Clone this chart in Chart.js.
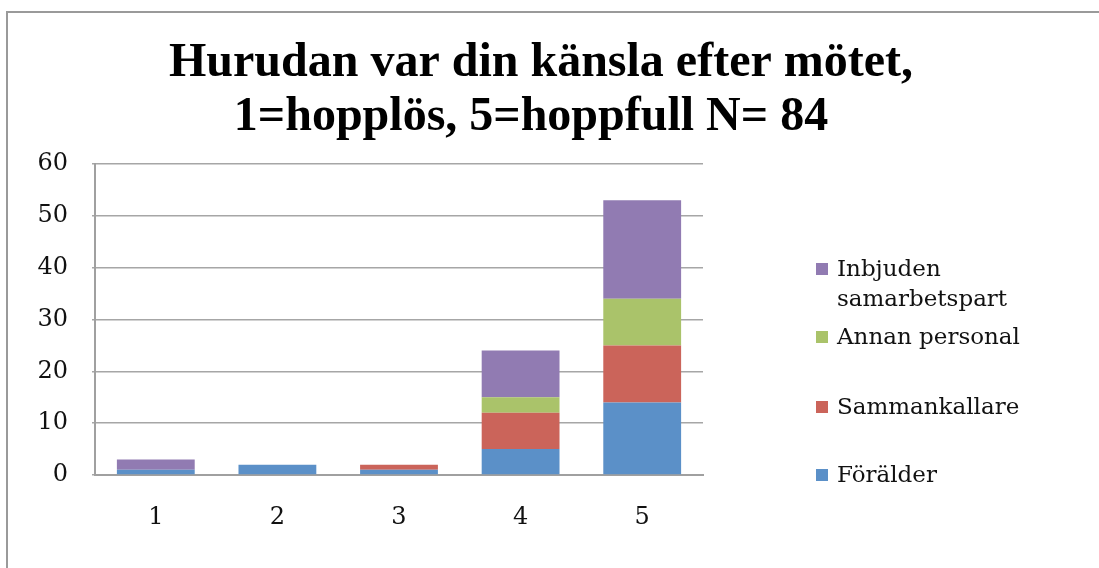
<!DOCTYPE html>
<html>
<head>
<meta charset="utf-8">
<script src="https://cdn.jsdelivr.net/npm/chart.js@4/dist/chart.umd.min.js"></script>
<style>
  html, body { margin: 0; padding: 0; background: #fff; }
  #wrap { width: 1099px; height: 568px; }
</style>
</head>
<body>
<div id="wrap"><canvas id="chart" width="1099" height="568"></canvas></div>
<script>
// chart data
const categories = ['1', '2', '3', '4', '5'];
const seriesNames = ['Förälder', 'Sammankallare', 'Annan personal', 'Inbjuden samarbetspart'];
const foralder = [1, 2, 1, 5, 14];
const sammankallare = [0, 0, 1, 7, 11];
const annanPersonal = [0, 0, 0, 3, 9];
const inbjuden = [2, 0, 0, 9, 19];
const yTicks = [0, 10, 20, 30, 40, 50, 60];
const titleLines = ['Hurudan var din känsla efter mötet,', '1=hopplös, 5=hoppfull N= 84'];

const colors = ['#5b90c8', '#cb645a', '#aac36a', '#917bb2'];
const serif = 'DejaVu Serif';

// legend is drawn by hand, top item first, with wrapped labels like the original
const legendLayout = [
  { idx: 3, lines: ['Inbjuden', 'samarbetspart'], y: 270 },
  { idx: 2, lines: ['Annan personal'], y: 338 },
  { idx: 1, lines: ['Sammankallare'], y: 408 },
  { idx: 0, lines: ['Förälder'], y: 476 }
];

const framePlugin = {
  id: 'frame',
  beforeDraw(chart) {
    const ctx = chart.ctx;
    ctx.save();
    ctx.strokeStyle = '#9a9a9a';
    ctx.lineWidth = 2;
    ctx.beginPath();
    ctx.moveTo(7, chart.height);
    ctx.lineTo(7, 12);
    ctx.lineTo(chart.width, 12);
    ctx.stroke();
    ctx.restore();
  }
};

// title sits over the whole picture, not only the plot area
const titleX = [541, 531];
const bigTitle = {
  id: 'bigTitle',
  afterDraw(chart) {
    const ctx = chart.ctx;
    ctx.save();
    ctx.font = 'bold 48px "Liberation Serif"';
    ctx.textAlign = 'center';
    ctx.textBaseline = 'middle';
    ctx.fillStyle = '#000';
    titleLines.forEach((t, i) => ctx.fillText(t, titleX[i], 64 + i * 54));
    ctx.restore();
  }
};

const sideLegend = {
  id: 'sideLegend',
  afterDraw(chart) {
    const ctx = chart.ctx;
    ctx.save();
    ctx.font = '23px "' + serif + '"';
    ctx.textBaseline = 'middle';
    legendLayout.forEach(item => {
      const ds = chart.data.datasets[item.idx];
      ctx.fillStyle = ds.backgroundColor;
      ctx.fillRect(816, item.y - 7, 12, 12);
      ctx.fillStyle = '#111';
      item.lines.forEach((t, i) => {
        ctx.fillText(t, 837, item.y + i * 30);
      });
    });
    ctx.restore();
  }
};

const data = [foralder, sammankallare, annanPersonal, inbjuden];

new Chart(document.getElementById('chart'), {
  type: 'bar',
  data: {
    labels: categories,
    datasets: seriesNames.map((name, i) => ({
      label: name,
      data: data[i],
      backgroundColor: colors[i],
      borderWidth: 0,
      barPercentage: 0.64,
      categoryPercentage: 1
    }))
  },
  options: {
    responsive: false,
    animation: false,
    layout: { padding: { left: 0, right: 396, top: 164, bottom: 0 } },
    plugins: {
      legend: { display: false },
      tooltip: { enabled: false },
      title: { display: false }
    },
    scales: {
      x: {
        stacked: true,
        grid: { display: false },
        border: { color: '#a0a0a0', width: 2 },
        ticks: { color: '#111', font: { family: serif, size: 24 }, padding: 20 },
        afterFit(scale) { scale.height = 93; }
      },
      y: {
        stacked: true,
        min: 0,
        max: 60,
        afterBuildTicks(scale) { scale.ticks = yTicks.map(v => ({ value: v })); },
        grid: { color: '#a6a6a6', lineWidth: 1.5, tickLength: 3 },
        border: { color: '#a0a0a0', width: 2 },
        ticks: { color: '#111', font: { family: serif, size: 24 }, padding: 24 },
        afterFit(scale) { scale.width = 95; }
      }
    }
  },
  plugins: [framePlugin, bigTitle, sideLegend]
});
</script>
</body>
</html>
